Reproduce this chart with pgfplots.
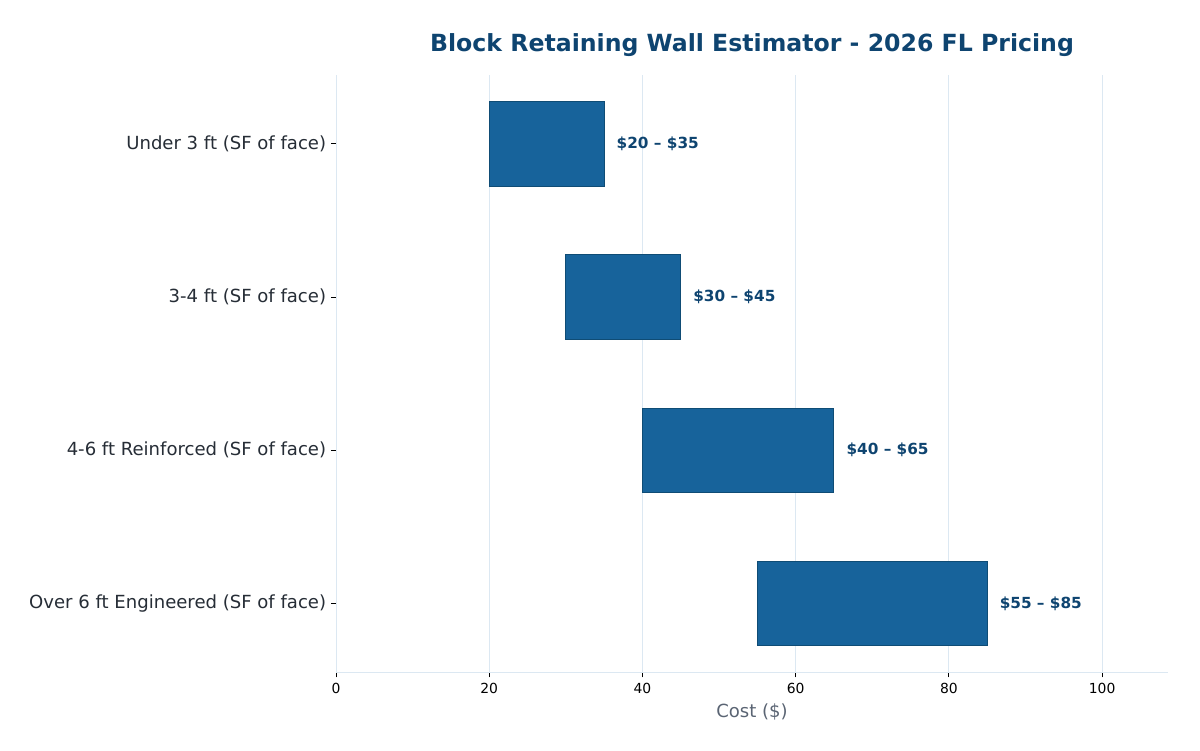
\documentclass[border=0pt]{standalone}
\usepackage{pgfplots}
\pgfplotsset{compat=1.18}
\usepackage{fontspec}
\setmainfont{DejaVu Sans}
\definecolor{barfill}{HTML}{17639B}
\definecolor{baredge}{HTML}{0F4C75}
\definecolor{titlec}{HTML}{0E4470}
\definecolor{gridc}{HTML}{DCE8F2}
\definecolor{ylabc}{HTML}{262D36}
\definecolor{xlabc}{HTML}{5A6473}
\pgfplotsset{common/.style={scale only axis, width=599pt, height=430pt,
  xmin=0, xmax=108.6, ymin=-0.45, ymax=3.45}}
\begin{document}
\begin{tikzpicture}
\begin{axis}[
  name=ax, common,
  xbar stacked,
  bar width=0.55,
  ytick={0,1,2,3},
  yticklabels={Over 6 ft Engineered (SF of face),4-6 ft Reinforced (SF of face),3-4 ft (SF of face),Under 3 ft (SF of face)},
  xtick={0,20,40,60,80,100},
  axis x line*=bottom, axis y line*=left,
  axis line style={gridc, line width=0.6pt},
  xmajorgrids, major grid style={gridc, line width=0.6pt},
  tick align=outside,
  major tick length=3.6pt,
  tick style={black, line width=0.6pt},
  x tick label style={font=\fontsize{10}{12}\selectfont, black, yshift=-1pt},
  y tick label style={font=\fontsize{13}{15}\selectfont, ylabc},
  /pgf/number format/assume math mode=true,
  xlabel={Cost (\$)},
  xlabel style={font=\fontsize{13}{15}\selectfont, xlabc, yshift=0pt},
  title={Block Retaining Wall Estimator - 2026 FL Pricing},
  title style={font=\fontsize{17}{20}\selectfont\bfseries, titlec, yshift=4pt},
]
\addplot[draw=none, fill=none] coordinates {(20,3) (30,2) (40,1) (55,0)};
\addplot[fill=barfill, draw=baredge, line width=0.7pt]
  coordinates {(15,3) (15,2) (25,1) (30,0)};
\end{axis}
\begin{axis}[common, hide axis]
\addplot[draw=none, mark=none,
  nodes near coords, point meta=explicit symbolic,
  every node near coord/.append style={anchor=west, xshift=5.5pt, font=\fontsize{11}{13}\selectfont\bfseries, text=titlec}]
  coordinates {(35,3) [\$20 – \$35] (45,2) [\$30 – \$45] (65,1) [\$40 – \$65] (85,0) [\$55 – \$85]};
\end{axis}
\pgfresetboundingbox
\path[use as bounding box] ([xshift=-241.92pt,yshift=-56.16pt]ax.south west) rectangle ([xshift=23.04pt,yshift=54pt]ax.north east);
\end{tikzpicture}
\end{document}
